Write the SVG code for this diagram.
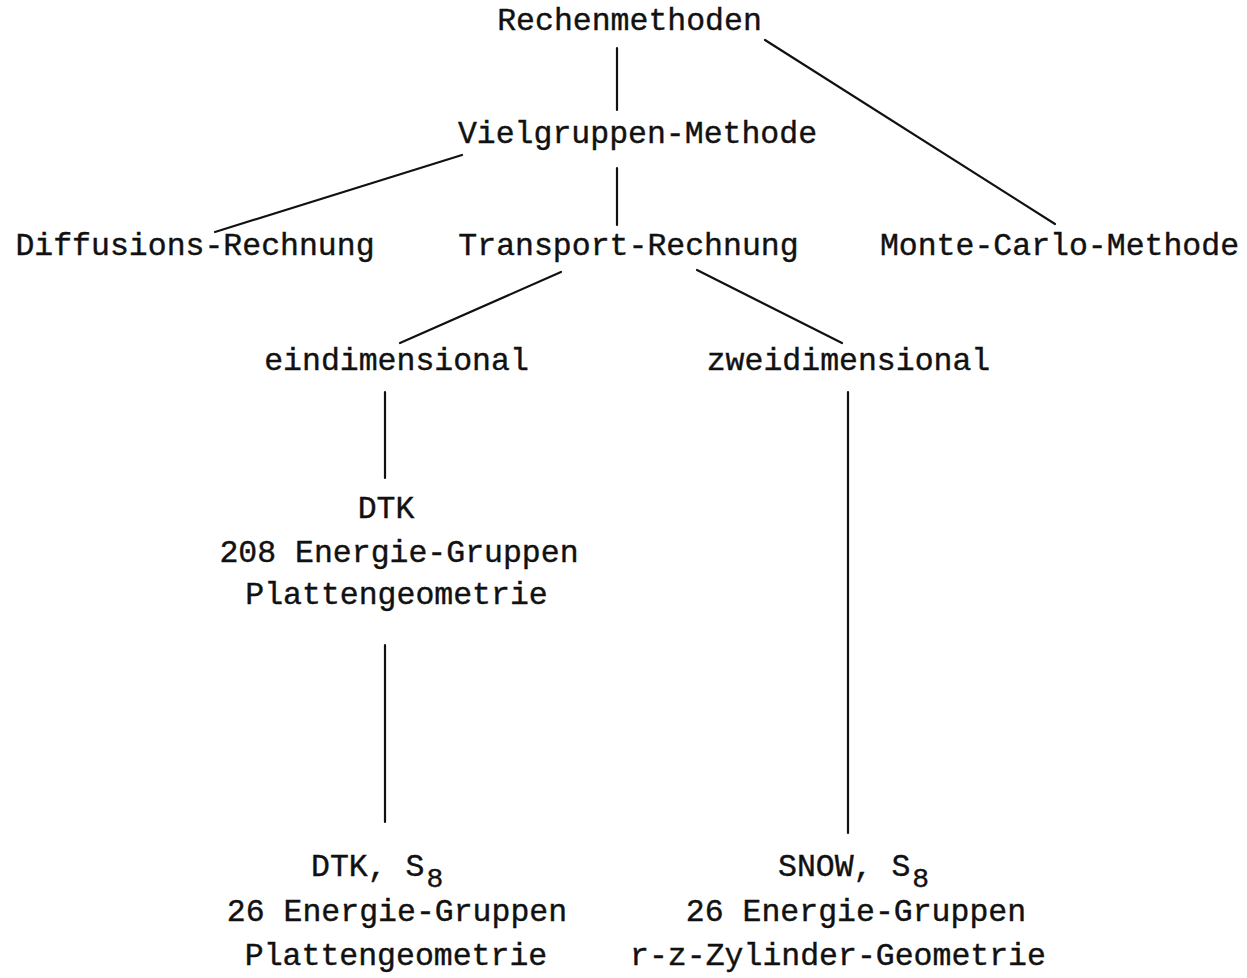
<svg xmlns="http://www.w3.org/2000/svg" width="1247" height="978" viewBox="0 0 1247 978">
<style>
text{font-family:"Liberation Mono","Courier New",monospace;font-size:31.5px;fill:#111;stroke:#111;stroke-width:0.4}
.c{text-anchor:middle}
.sub{font-size:28px}
line{stroke:#111;stroke-width:2.2;stroke-linecap:round}
</style>
<rect width="1247" height="978" fill="#fff"/>
<g id="connectors">
<line x1="617" y1="48" x2="617" y2="110"/>
<line x1="765" y1="40" x2="1055" y2="224"/>
<line x1="462" y1="155" x2="215" y2="232"/>
<line x1="617" y1="168" x2="617" y2="225"/>
<line x1="561" y1="272" x2="400" y2="343"/>
<line x1="697" y1="270" x2="842" y2="343"/>
<line x1="385" y1="392" x2="385" y2="478"/>
<line x1="848" y1="392" x2="848" y2="833"/>
<line x1="385" y1="645" x2="385" y2="822"/>
</g>
<g id="n-rechenmethoden"><text class="c" x="629.5" y="30">Rechenmethoden</text></g>
<g id="n-vielgruppen"><text class="c" x="637.5" y="143">Vielgruppen-Methode</text></g>
<g id="n-diffusion"><text class="c" x="195" y="255">Diffusions-Rechnung</text></g>
<g id="n-transport"><text class="c" x="628.5" y="255">Transport-Rechnung</text></g>
<g id="n-montecarlo"><text class="c" x="1059.5" y="255">Monte-Carlo-Methode</text></g>
<g id="n-eindim"><text class="c" x="396.5" y="370">eindimensional</text></g>
<g id="n-zweidim"><text class="c" x="848.5" y="370">zweidimensional</text></g>
<g id="n-dtk208">
<text class="c" x="386" y="518">DTK</text>
<text class="c" x="399" y="562">208 Energie-Gruppen</text>
<text class="c" x="396.5" y="604">Plattengeometrie</text>
</g>
<g id="n-dtks8">
<text x="311" y="876">DTK, S<tspan class="sub" dx="2" dy="11">8</tspan></text>
<text class="c" x="397" y="921">26 Energie-Gruppen</text>
<text class="c" x="396" y="965">Plattengeometrie</text>
</g>
<g id="n-snows8">
<text x="778" y="876">SNOW, S<tspan class="sub" dx="2" dy="11">8</tspan></text>
<text class="c" x="856" y="921">26 Energie-Gruppen</text>
<text class="c" x="838" y="965">r-z-Zylinder-Geometrie</text>
</g>
</svg>
